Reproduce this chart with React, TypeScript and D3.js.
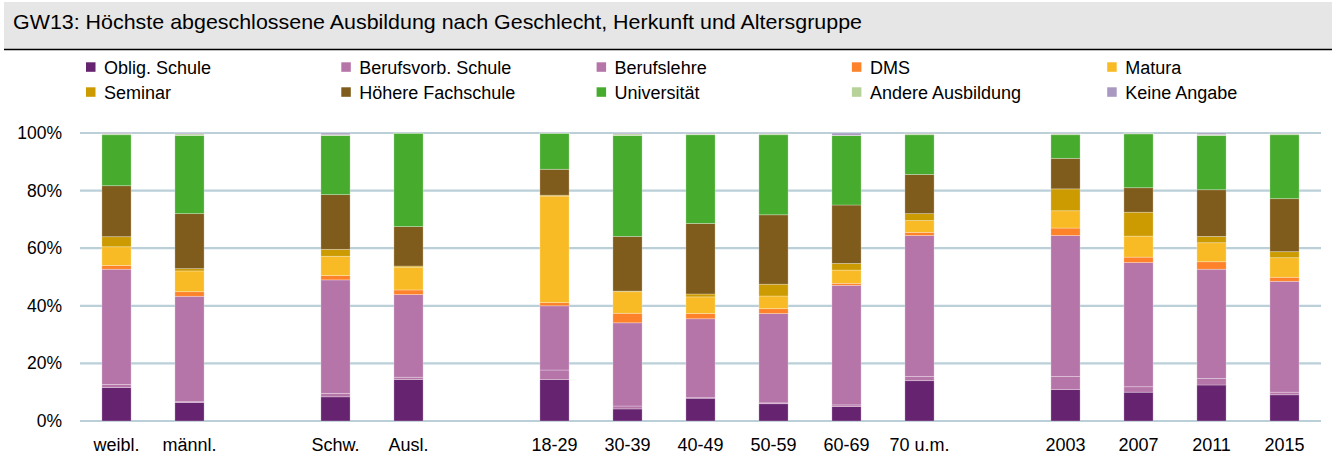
import React from "react";
import * as d3 from "d3";

const title = "GW13: Höchste abgeschlossene Ausbildung nach Geschlecht, Herkunft und Altersgruppe";

// slots on the x axis (gaps are empty slots)
const slots = ["weibl.", "männl.", "gap1", "Schw.", "Ausl.", "gap2", "18-29", "30-39", "40-49", "50-59", "60-69", "70 u.m.", "gap3", "2003", "2007", "2011", "2015"];
const categories = ["weibl.", "männl.", "Schw.", "Ausl.", "18-29", "30-39", "40-49", "50-59", "60-69", "70 u.m.", "2003", "2007", "2011", "2015"];

const seriesNames = ["Oblig. Schule", "Berufsvorb. Schule", "Berufslehre", "DMS", "Matura", "Seminar", "Höhere Fachschule", "Universität", "Andere Ausbildung", "Keine Angabe"];
const seriesColors = ["#66236f", "#b675a9", "#b575a9", "#fd822a", "#f9bb25", "#cc9b02", "#7f5c1b", "#47ab2e", "#b6d298", "#a999c0"];

const obligSchule = [11.6, 6.4, 8.4, 14.4, 14.4, 4.2, 7.9, 6.0, 5.0, 14.0, 10.9, 10.0, 12.5, 9.1];
const berufsvorbSchule = [1.1, 0.3, 1.2, 0.8, 3.3, 1.0, 0.2, 0.3, 0.6, 1.5, 4.6, 1.9, 2.3, 0.9];
const berufslehre = [40.0, 36.6, 39.4, 28.7, 22.3, 28.9, 27.4, 31.0, 41.5, 48.9, 48.9, 43.1, 37.9, 38.5];
const dms = [1.3, 1.6, 1.5, 1.6, 1.1, 3.3, 1.8, 1.7, 0.7, 1.1, 2.6, 1.9, 2.6, 1.4];
const matura = [6.5, 7.2, 6.7, 7.9, 37.0, 7.5, 5.8, 4.4, 4.6, 4.1, 6.0, 7.3, 6.6, 6.8];
const seminar = [3.5, 0.8, 2.4, 0.4, 0.3, 0.2, 1.0, 4.1, 2.3, 2.4, 7.6, 8.3, 2.2, 2.1];
const hoehereFachschule = [17.7, 19.1, 19.0, 13.7, 9.0, 19.0, 24.5, 24.1, 20.3, 13.6, 10.6, 8.5, 16.2, 18.4];
const universitaet = [17.7, 27.1, 20.5, 32.4, 12.5, 35.0, 30.8, 27.8, 24.1, 13.8, 8.2, 18.7, 18.8, 22.2];
const andereAusbildung = [0.4, 0.6, 0.3, 0.1, 0.1, 0.6, 0.3, 0.4, 0.1, 0.4, 0.4, 0.2, 0.4, 0.4];
const keineAngabe = [0.3, 0.3, 0.6, 0.0, 0.1, 0.3, 0.3, 0.2, 0.8, 0.2, 0.2, 0.1, 0.5, 0.2];

const seriesValues = [obligSchule, berufsvorbSchule, berufslehre, dms, matura, seminar, hoehereFachschule, universitaet, andereAusbildung, keineAngabe];

const yTicks = [0, 20, 40, 60, 80, 100];

const W = 1332;
const H = 456;
const FONT = "'Liberation Sans', Arial, sans-serif";

export default function App() {
  const x = d3.scaleBand<string>().domain(slots).range([80, 1321]).paddingInner(0.6).paddingOuter(0.3);
  const y = d3.scaleLinear().domain([0, 100]).range([421, 133]);

  const rows = categories.map((c, i) => {
    const r: any = { cat: c };
    seriesNames.forEach((s, k) => (r[s] = seriesValues[k][i]));
    return r;
  });
  const stacked = d3.stack<any>().keys(seriesNames)(rows);

  const legendX = (i: number) => 86 + (i % 5) * 255.3;
  const legendY = (i: number) => 67 + Math.floor(i / 5) * 25;

  return (
    <svg width={W} height={H} style={{ position: "absolute", left: 0, top: 0, background: "#fff" }} fontFamily={FONT}>
      <rect x={4} y={2} width={W - 4} height={47} fill="#e6e6e6" />
      <line x1={4} x2={W} y1={49.5} y2={49.5} stroke="#000" strokeWidth={1.6} />
      <text x={13} y={29} fontSize={21} fill="#000" textLength={849} lengthAdjust="spacingAndGlyphs">{title}</text>

      {seriesNames.map((s, i) => (
        <g key={s}>
          <rect x={legendX(i)} y={legendY(i) - 4.7} width={9.5} height={9.5} fill={seriesColors[i]} />
          <text x={legendX(i) + 18} y={legendY(i) + 6.5} fontSize={18} fill="#000">{s}</text>
        </g>
      ))}

      {yTicks.map((t) => (
        <g key={t}>
          <line x1={80} x2={1321} y1={y(t)} y2={y(t)} stroke="#bacfd8" strokeWidth={2.2} />
          <text x={62} y={y(t) + 6} fontSize={17.5} textAnchor="end" fill="#000">{t}%</text>
        </g>
      ))}

      {stacked.map((layer, k) => (
        <g key={layer.key} fill={seriesColors[k]}>
          {layer.map((d, i) => (
            <rect
              key={categories[i]}
              x={x(categories[i])}
              width={x.bandwidth()}
              y={y(d[1])}
              height={Math.max(0, y(d[0]) - y(d[1]))}
              stroke="rgba(255,255,255,0.35)"
              strokeWidth={0.8}
            />
          ))}
        </g>
      ))}

      {categories.map((c) => (
        <text key={c} x={(x(c) as number) + x.bandwidth() / 2} y={451} fontSize={18} textAnchor="middle" fill="#000">{c}</text>
      ))}
    </svg>
  );
}
